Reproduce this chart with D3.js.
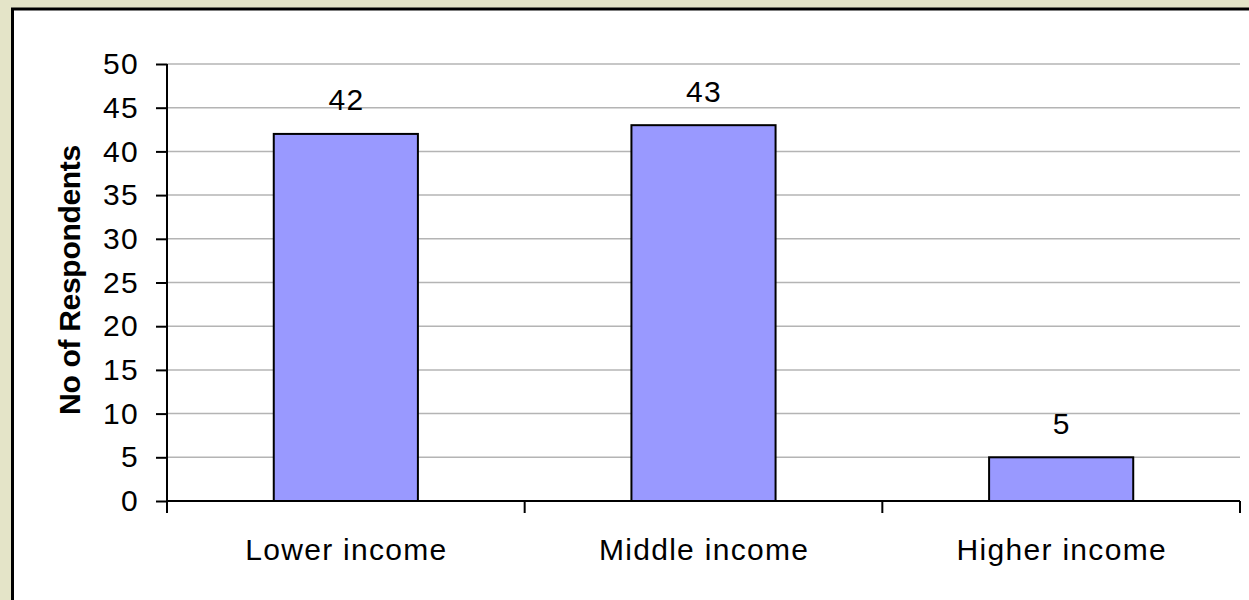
<!DOCTYPE html>
<html>
<head>
<meta charset="utf-8">
<script src="https://cdn.jsdelivr.net/npm/d3@7"></script>
<style>
  html, body { margin: 0; padding: 0; background: #e4e4c8; }
  svg { display: block; }
  text { font-family: "Liberation Sans", Arial, sans-serif; fill: #000; }
</style>
</head>
<body>
<svg id="chart" width="1249" height="600"></svg>
<script>
const categories = ["Lower income", "Middle income", "Higher income"];
const values = [42, 43, 5];
const yTicks = [0, 5, 10, 15, 20, 25, 30, 35, 40, 45, 50];
const yTitle = "No of Respondents";

(function () {
const svg = d3.select("#chart");
const W = 1249, H = 600;

svg.append("rect").attr("x", 0).attr("y", 0).attr("width", W).attr("height", H).attr("fill", "#e4e4c8");
svg.append("rect").attr("x", 12.5).attr("y", 9).attr("width", W + 20).attr("height", H + 20)
  .attr("fill", "#fff").attr("stroke", "#000").attr("stroke-width", 3);

const pLeft = 167, pRight = 1240, pTop = 64, pBottom = 501;
const x = d3.scaleBand().domain(categories).range([pLeft, pRight]).paddingInner(0.597).paddingOuter(0.2985);
const y = d3.scaleLinear().domain([0, 50]).range([pBottom, pTop]);

svg.append("g").selectAll("line").data(yTicks.filter(d => d > 0)).join("line")
  .attr("x1", pLeft).attr("x2", pRight)
  .attr("y1", d => y(d)).attr("y2", d => y(d))
  .attr("stroke", "#b4b4b4").attr("stroke-width", 1.5);

svg.append("g").selectAll("rect").data(values).join("rect")
  .attr("x", (d, i) => x(categories[i]))
  .attr("y", d => y(d))
  .attr("width", x.bandwidth())
  .attr("height", d => y(0) - y(d))
  .attr("fill", "#9999ff").attr("stroke", "#000").attr("stroke-width", 2);

svg.append("g").selectAll("text").data(values).join("text")
  .attr("x", (d, i) => x(categories[i]) + x.bandwidth() / 2 + 0.6)
  .attr("y", d => y(d) - 23.5)
  .attr("text-anchor", "middle")
  .style("font-size", "30px").style("letter-spacing", "1.3px")
  .text(d => d);

const yAxis = d3.axisLeft(y).tickValues(yTicks).tickSize(11).tickPadding(17);
const gy = svg.append("g").attr("transform", `translate(${pLeft},0)`).call(yAxis);
gy.select(".domain").attr("stroke", "#000").attr("stroke-width", 2).attr("d", `M0,${pTop}V${pBottom}`);
gy.selectAll(".tick line").attr("stroke", "#000").attr("stroke-width", 2);
gy.selectAll(".tick text").style("font-size", "30px").style("letter-spacing", "1.3px")
  .style("font-family", "'Liberation Sans', Arial, sans-serif").attr("fill", "#000");

const xEdges = d3.scaleLinear().domain([0, categories.length]).range([pLeft, pRight]);
const gx = svg.append("g").attr("transform", `translate(0,${pBottom})`);
gx.append("line").attr("x1", pLeft).attr("x2", pRight).attr("y1", 0).attr("y2", 0)
  .attr("stroke", "#000").attr("stroke-width", 2);
gx.selectAll("line.tk").data(d3.range(categories.length + 1)).join("line").attr("class", "tk")
  .attr("x1", d => xEdges(d)).attr("x2", d => xEdges(d))
  .attr("y1", 0).attr("y2", 12).attr("stroke", "#000").attr("stroke-width", 2);
gx.selectAll("text").data(categories).join("text")
  .attr("x", d => x(d) + x.bandwidth() / 2 + 0.6)
  .attr("y", 59)
  .attr("text-anchor", "middle")
  .style("font-size", "30px").style("letter-spacing", "1.3px")
  .text(d => d);

svg.append("text")
  .attr("transform", `translate(80,280) rotate(-90)`)
  .attr("text-anchor", "middle")
  .style("font-size", "30px").style("font-weight", "bold").style("letter-spacing", "-0.3px")
  .text(yTitle);
})();
</script>
</body>
</html>
